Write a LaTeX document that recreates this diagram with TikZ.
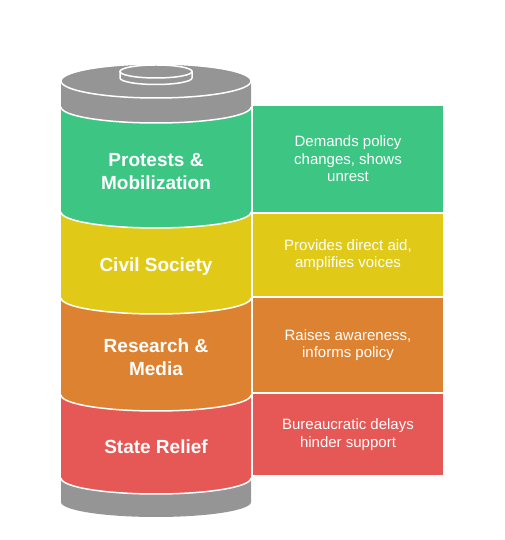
\documentclass[tikz,border=0pt]{standalone}
\usepackage{fontspec}
\setmainfont{Liberation Sans}
\usetikzlibrary{positioning}
\definecolor{capgray}{RGB}{149,149,149}
\definecolor{protestgreen}{RGB}{61,197,132}
\definecolor{civilyellow}{RGB}{224,202,23}
\definecolor{mediaorange}{RGB}{221,130,48}
\definecolor{reliefred}{RGB}{229,88,85}

\begin{document}
\begin{tikzpicture}[x=1pt, y=1pt,
  infobox/.style={minimum width=190pt, outer sep=0pt, inner sep=0pt,
                  align=center, text=white, font=\fontsize{15}{17.5}\selectfont},
  layerlabel/.style={align=center, text=white,
                     font=\bfseries\fontsize{19}{23}\selectfont},
  seam/.style={draw=white, line width=1.5pt}]

  \useasboundingbox (0,0) rectangle (504,540);

  % cylinder base and layers
  \fill[capgray] (61,62) -- (61,38) arc[start angle=180, end angle=360, x radius=95, y radius=15]
        -- (251,62) arc[start angle=0, end angle=-180, x radius=95, y radius=16] -- cycle;
  \fill[reliefred] (61,145) -- (61,62) arc[start angle=180, end angle=360, x radius=95, y radius=16]
        -- (251,145) arc[start angle=0, end angle=-180, x radius=95, y radius=16] -- cycle;
  \fill[mediaorange] (61,242) -- (61,145) arc[start angle=180, end angle=360, x radius=95, y radius=16]
        -- (251,242) arc[start angle=0, end angle=-180, x radius=95, y radius=16] -- cycle;
  \fill[civilyellow] (61,328) -- (61,242) arc[start angle=180, end angle=360, x radius=95, y radius=16]
        -- (251,328) arc[start angle=0, end angle=-180, x radius=95, y radius=16] -- cycle;
  \fill[protestgreen] (61,433) -- (61,328) arc[start angle=180, end angle=360, x radius=95, y radius=16]
        -- (251,433) arc[start angle=0, end angle=-180, x radius=95, y radius=16] -- cycle;
  \fill[capgray] (61,459) -- (61,433) arc[start angle=180, end angle=360, x radius=95, y radius=16]
        -- (251,459) arc[start angle=0, end angle=-180, x radius=95, y radius=17] -- cycle;

  % seams between layers
  \draw[seam] (61,62)  arc[start angle=180, end angle=360, x radius=95, y radius=16];
  \draw[seam] (61,145) arc[start angle=180, end angle=360, x radius=95, y radius=16];
  \draw[seam] (61,242) arc[start angle=180, end angle=360, x radius=95, y radius=16];
  \draw[seam] (61,328) arc[start angle=180, end angle=360, x radius=95, y radius=16];
  \draw[seam] (61,433) arc[start angle=180, end angle=360, x radius=95, y radius=16];

  % lid and knob
  \filldraw[fill=capgray, seam] (156,459) ellipse[x radius=95, y radius=17];
  \filldraw[fill=capgray, seam] (120,468.5) -- (120,462)
        arc[start angle=180, end angle=360, x radius=36, y radius=6.5] -- (192,468.5) -- cycle;
  \filldraw[fill=capgray, seam] (156,468.5) ellipse[x radius=36, y radius=6.5];

  % layer names
  \node[layerlabel] (protestslabel) at (156,368.5) {Protests \&\\Mobilization};
  \node[layerlabel] (civillabel)    at (156,273)   {Civil Society};
  \node[layerlabel] (medialabel)    at (156,183)   {Research \&\\Media};
  \node[layerlabel] (relieflabel)   at (156,93)    {State Relief};

  % notes on the right
  \node[infobox, fill=protestgreen, minimum height=106pt] (protestsnote) at (348,381)
        {Demands policy\\changes, shows\\unrest};
  \node[infobox, fill=civilyellow, minimum height=82pt, below=2pt of protestsnote] (civilnote)
        {Provides direct aid,\\amplifies voices};
  \node[infobox, fill=mediaorange, minimum height=94pt, below=2pt of civilnote] (medianote)
        {Raises awareness,\\informs policy};
  \node[infobox, fill=reliefred, minimum height=81pt, below=2pt of medianote] (reliefnote)
        {Bureaucratic delays\\hinder support};

\end{tikzpicture}
\end{document}
